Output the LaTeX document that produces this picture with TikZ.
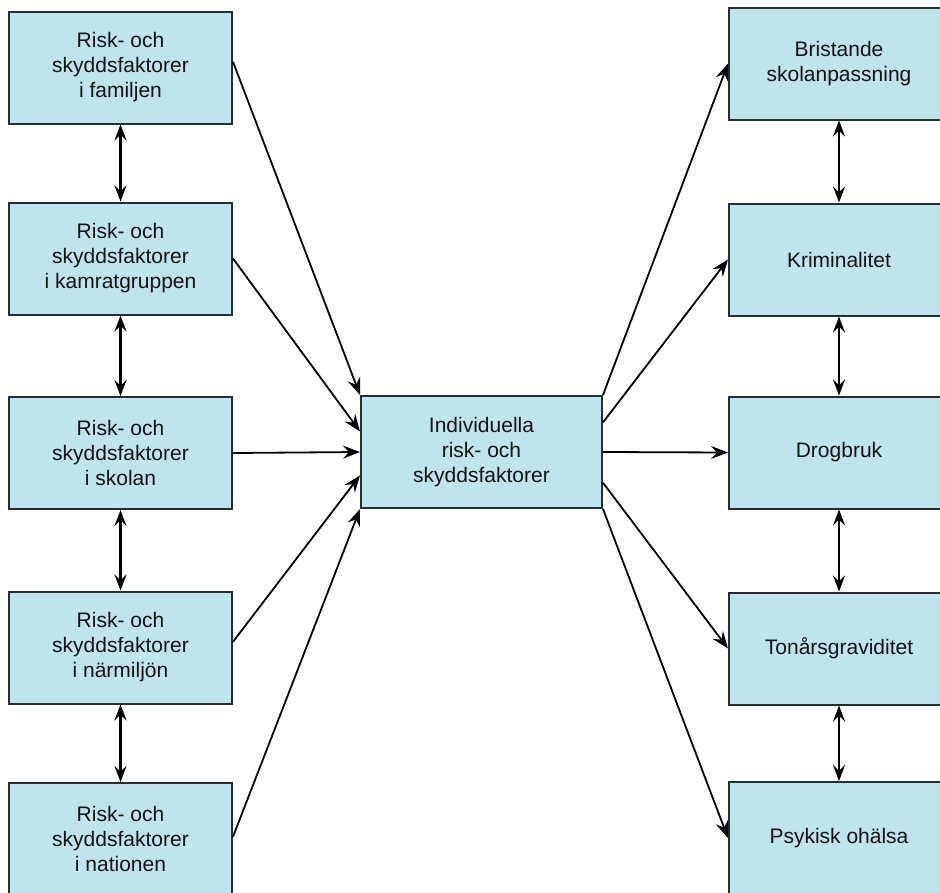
\documentclass[tikz,border=0pt]{standalone}
\usepackage{fontspec}
\setmainfont{Liberation Sans}
\usetikzlibrary{arrows.meta,calc}
\definecolor{boxfill}{RGB}{190,228,236}
\definecolor{boxline}{RGB}{40,45,45}
\tikzset{
  factorbox/.style={draw=boxline, line width=2pt, fill=boxfill, minimum width=223pt, minimum height=112pt, inner sep=0pt,
    align=center, font=\fontsize{21pt}{25pt}\selectfont, text=black!92},
  outbox/.style={factorbox, minimum width=220pt},
  conn/.style={line width=1.8pt, -{Stealth[length=17pt,width=13pt,inset=6pt]}},
  twoway/.style={line width=2.5pt, {Stealth[length=16pt,width=12pt,inset=6pt]}-{Stealth[length=16pt,width=12pt,inset=6pt]}}
}
\begin{document}
\begin{tikzpicture}[x=1pt,y=-1pt]
\useasboundingbox (0,0) rectangle (940,892);
\clip (0,0) rectangle (940,892);
\fill[white] (0,0) rectangle (940,892);
% left column
\node[factorbox] (f1) at (120.5,67.5) {Risk- och\\skyddsfaktorer\\i familjen};
\node[factorbox] (f2) at (120.5,258.5) {Risk- och\\skyddsfaktorer\\i kamratgruppen};
\node[factorbox] (f3) at (120.5,453) {Risk- och\\skyddsfaktorer\\i skolan};
\node[factorbox] (f4) at (120.5,647.5) {Risk- och\\skyddsfaktorer\\i närmiljön};
\node[factorbox] (f5) at (120.5,839) {Risk- och\\skyddsfaktorer\\i nationen};
% centre
\node[factorbox, minimum width=241pt] (ind) at (481.5,452) {Individuella\\risk- och\\skyddsfaktorer};
% right column
\node[outbox] (o1) at (839,63.5) {Bristande\\skolanpassning};
\node[outbox] (o2) at (839,259.5) {Kriminalitet};
\node[outbox] (o3) at (839,452.5) {Drogbruk};
\node[outbox] (o4) at (839,648.5) {Tonårsgraviditet};
\node[outbox] (o5) at (839,838) {Psykisk ohälsa};
% left -> centre
\draw[conn] ($(f1.north east)!0.45!(f1.south east)$) -- (ind.north west);
\draw[conn] (f2.east) -- ($(ind.north west)!0.32!(ind.south west)$);
\draw[conn] (f3.east) -- (ind.west);
\draw[conn] ($(f4.north east)!0.45!(f4.south east)$) -- ($(ind.north west)!0.705!(ind.south west)$);
\draw[conn] ($(f5.north east)!0.48!(f5.south east)$) -- (ind.south west);
% centre -> right
\draw[conn] (ind.north east) -- (o1.west);
\draw[conn] ($(ind.north east)!0.24!(ind.south east)$) -- (o2.west);
\draw[conn] (ind.east) -- (o3.west);
\draw[conn] ($(ind.north east)!0.77!(ind.south east)$) -- (o4.west);
\draw[conn] (ind.south east) -- (o5.west);
% vertical two-way
\draw[twoway] (f1.south) -- (f2.north);
\draw[twoway] (f2.south) -- (f3.north);
\draw[twoway] (f3.south) -- (f4.north);
\draw[twoway] (f4.south) -- (f5.north);
\draw[twoway] (o1.south) -- (o2.north);
\draw[twoway] (o2.south) -- (o3.north);
\draw[twoway] (o3.south) -- (o4.north);
\draw[twoway] (o4.south) -- (o5.north);
\end{tikzpicture}
\end{document}
